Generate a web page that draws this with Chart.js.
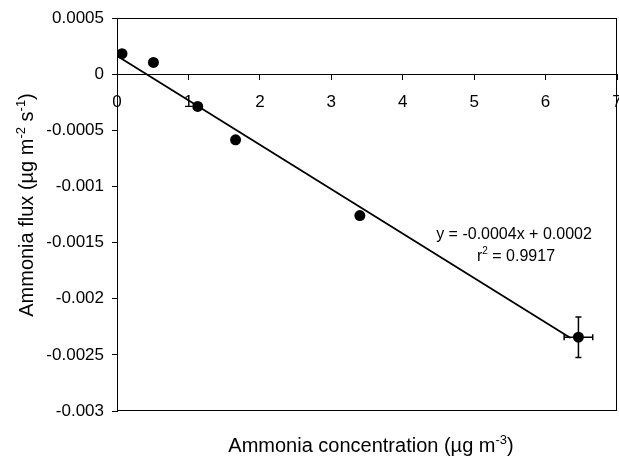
<!DOCTYPE html>
<html>
<head>
<meta charset="utf-8">
<script src="https://cdn.jsdelivr.net/npm/chart.js@4"></script>
<style>
  body { margin: 0; background: #fff; }
  canvas { display: block; }
</style>
</head>
<body>
<canvas id="flux-chart" width="619" height="456"></canvas>
<script>
// values
const concentration = [0.07, 0.51, 1.13, 1.66, 3.40, 6.46]
const flux = [0.000182, 0.000104, -0.000288, -0.000585, -0.00126, -0.002343]
const concErr = [0, 0, 0, 0, 0, 0.2]
const fluxErr = [0, 0, 0, 0, 0, 0.00018]
const fitX = [0.02, 6.35]
const fitY = [0.000155, -0.00235]
const yTickLabels = ['-0.003', '-0.0025', '-0.002', '-0.0015', '-0.001', '-0.0005', '0', '0.0005']
const xTickLabels = ['0', '1', '2', '3', '4', '5', '6', '7']
const equationLine = 'y = -0.0004x + 0.0002'
const r2Value = '0.9917'

const FONT = '"Liberation Sans", Arial, sans-serif'

// draw a string made of [text, isSuperscript] parts, centred on x
function drawRich(ctx, parts, x, y, size) {
   const supSize = Math.round(size * 0.65)
   let total = 0
   const widths = parts.map(p => {
      ctx.font = (p[1] ? supSize : size) + 'px ' + FONT
      const w = ctx.measureText(p[0]).width
      total += w
      return w
   })
   let cx = x - total / 2
   parts.forEach((p, i) => {
      ctx.font = (p[1] ? supSize : size) + 'px ' + FONT
      ctx.fillText(p[0], cx, p[1] ? y - size * 0.42 : y)
      cx += widths[i]
   })
}

const extras = {
   id: 'extras',
   afterDatasetsDraw(chart) {
      const { ctx, chartArea: a, scales: { x, y } } = chart
      ctx.save()
      // plot frame
      ctx.strokeStyle = '#000'
      ctx.lineWidth = 1
      ctx.strokeRect(Math.round(a.left) + 0.5, Math.round(a.top) + 0.5,
         Math.round(a.right - a.left) - 1, Math.round(a.bottom - a.top) - 1)

      // error bars
      ctx.lineWidth = 1.5
      concentration.forEach((cx, i) => {
         const px = x.getPixelForValue(cx)
         const py = y.getPixelForValue(flux[i])
         if (fluxErr[i]) {
            const t = y.getPixelForValue(flux[i] + fluxErr[i])
            const b = y.getPixelForValue(flux[i] - fluxErr[i])
            ctx.beginPath()
            ctx.moveTo(px, t); ctx.lineTo(px, b)
            ctx.moveTo(px - 3, t); ctx.lineTo(px + 3, t)
            ctx.moveTo(px - 3, b); ctx.lineTo(px + 3, b)
            ctx.stroke()
         }
         if (concErr[i]) {
            const l = x.getPixelForValue(cx - concErr[i])
            const r = x.getPixelForValue(cx + concErr[i])
            ctx.beginPath()
            ctx.moveTo(l, py); ctx.lineTo(r, py)
            ctx.moveTo(l, py - 3); ctx.lineTo(l, py + 3)
            ctx.moveTo(r, py - 3); ctx.lineTo(r, py + 3)
            ctx.stroke()
         }
      })

      ctx.fillStyle = '#000'
      ctx.textBaseline = 'alphabetic'
      ctx.textAlign = 'left'

      // regression label
      drawRich(ctx, [[equationLine, false]], 514, 239, 16)
      drawRich(ctx, [['r', false], ['2', true], [' = ' + r2Value, false]], 516, 261, 16)

      // axis titles
      drawRich(ctx, [['Ammonia concentration (\u00b5g m', false], ['-3', true], [')', false]], 371, 452, 20)
      ctx.translate(33, 205)
      ctx.rotate(-Math.PI / 2)
      drawRich(ctx, [['Ammonia flux (\u00b5g m', false], ['-2', true], [' s', false], ['-1', true], [')', false]], 0, 0, 20)
      ctx.restore()
   }
}

new Chart(document.getElementById('flux-chart'), {
   type: 'scatter',
   data: {
      datasets: [
         {
            data: concentration.map((c, i) => ({ x: c, y: flux[i] })),
            backgroundColor: '#000',
            borderColor: '#000',
            pointRadius: 5.5,
            borderWidth: 0
         },
         {
            data: fitX.map((c, i) => ({ x: c, y: fitY[i] })),
            showLine: true,
            pointRadius: 0,
            borderColor: '#000',
            borderWidth: 1.8
         }
      ]
   },
   plugins: [extras],
   options: {
      responsive: false,
      animation: false,
      layout: { autoPadding: false, padding: { top: 18, right: 2, bottom: 45, left: 0 } },
      plugins: {
         legend: { display: false },
         tooltip: { enabled: false }
      },
      scales: {
         x: {
            type: 'linear',
            position: { y: 0 },
            min: 0,
            max: 7,
            afterFit: s => { s.height = 0; s.paddingLeft = 0; s.paddingRight = 0 },
            ticks: {
               stepSize: 1,
               padding: 13,
               color: '#000',
               font: { family: FONT, size: 17 },
               callback: (v, i) => xTickLabels[i]
            },
            grid: { drawOnChartArea: false, drawTicks: true, tickLength: 5, color: '#000' },
            border: { display: true, color: '#000', width: 1 }
         },
         y: {
            min: -0.003,
            max: 0.0005,
            afterFit: s => { s.width = 117; s.paddingTop = 0; s.paddingBottom = 0 },
            ticks: {
               stepSize: 0.0005,
               padding: 8,
               color: '#000',
               font: { family: FONT, size: 17 },
               callback: (v, i) => yTickLabels[i]
            },
            grid: { drawOnChartArea: false, drawTicks: true, tickLength: 5, color: '#000' },
            border: { display: true, color: '#000', width: 1 }
         }
      }
   }
})
</script>
</body>
</html>
